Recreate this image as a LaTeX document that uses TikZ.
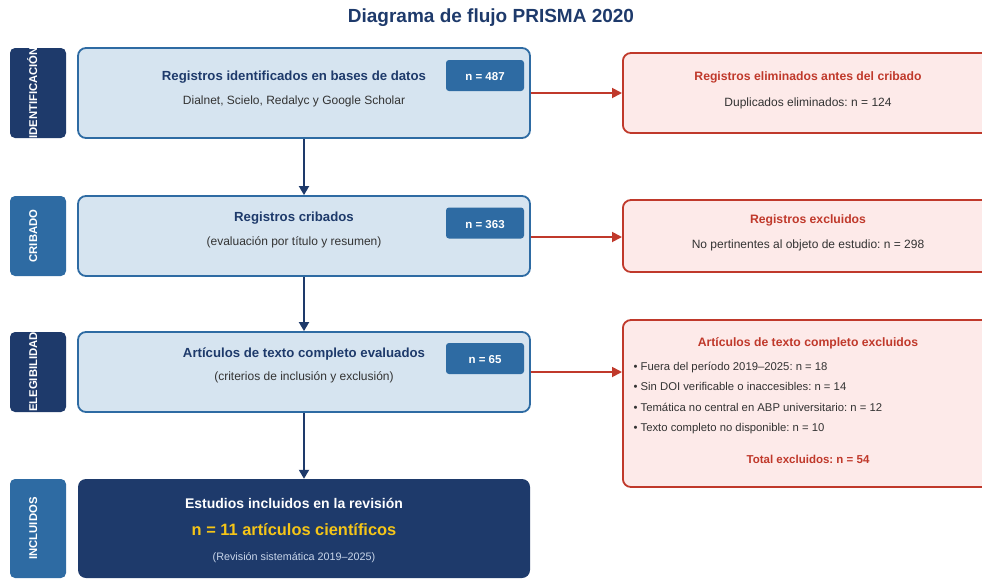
\documentclass[tikz,border=0pt]{standalone}
\usepackage{fontspec}
\setmainfont{Liberation Sans}
\usetikzlibrary{arrows.meta}

\definecolor{navy}{HTML}{1E3A6B}
\definecolor{midblue}{HTML}{2E6BA3}
\definecolor{paleblue}{HTML}{D6E4F0}
\definecolor{exred}{HTML}{C0392B}
\definecolor{expink}{HTML}{FDEAE9}
\definecolor{bodygray}{HTML}{333333}
\definecolor{gold}{HTML}{F5C518}
\definecolor{softwhite}{HTML}{C9D6EA}
\frenchspacing

\begin{document}
\begin{tikzpicture}[x=1pt,y=-1pt,
    every node/.append style={text height=1.5ex, text depth=.3ex},
    txt/.style={yshift=-2pt},
    stage/.style={rounded corners=5pt, minimum width=56pt, inner sep=0pt},
    stagetext/.style={xshift=-4pt, rotate=90, text=white, font=\fontsize{11.3}{13}\selectfont\bfseries},
    mainbox/.style={draw=midblue, fill=paleblue, line width=1.8pt, rounded corners=8pt, minimum width=452pt, inner sep=0pt},
    countbox/.style={fill=midblue, rounded corners=3pt, minimum width=78pt, minimum height=31pt, inner sep=0pt},
    counttext/.style={txt, text=white, font=\fontsize{11.5}{13}\selectfont\bfseries},
    headtext/.style={txt, text=navy, font=\fontsize{13.2}{15}\selectfont\bfseries},
    subtext/.style={txt, text=bodygray, font=\fontsize{12}{14}\selectfont},
    exclbox/.style={draw=exred, fill=expink, line width=1.8pt, rounded corners=8pt, minimum width=372pt, anchor=west, inner sep=0pt},
    excltitle/.style={txt, text=exred, font=\fontsize{12.2}{14}\selectfont\bfseries},
    excltext/.style={txt, text=bodygray, font=\fontsize{12}{14}\selectfont},
    bullet/.style={txt, text=bodygray, font=\fontsize{11.3}{13}\selectfont, anchor=west},
    flow/.style={-{Triangle[length=9pt,width=10pt]}, line width=1.8pt, navy},
    redflow/.style={-{Triangle[length=10pt,width=10pt]}, line width=1.8pt, exred}]
    \clip (0,0) rectangle (982,579);

    % Title %
    \node[txt, yshift=-1pt, text=navy, font=\fontsize{19}{22}\selectfont\bfseries] (title) at (491,16) {Diagrama de flujo PRISMA 2020};

    % Stage labels %
    \node[stage, fill=navy, minimum height=90pt, label={[stagetext]center:IDENTIFICACIÓN}] (stid) at (38,93) {};
    \node[stage, fill=midblue, minimum height=80pt, label={[stagetext]center:CRIBADO}] (stcrib) at (38,236) {};
    \node[stage, fill=navy, minimum height=80pt, label={[stagetext]center:ELEGIBILIDAD}] (stelig) at (38,372) {};
    \node[stage, fill=midblue, minimum height=99pt, label={[stagetext]center:INCLUIDOS}] (stincl) at (38,528.5) {};

    % Main flow %
    \node[mainbox, minimum height=90pt] (ident) at (304,93) {};
    \node[headtext] (identhead) at (294,75) {Registros identificados en bases de datos};
    \node[subtext] (identsub) at (294,99) {Dialnet, Scielo, Redalyc y Google Scholar};
    \node[countbox, label={[counttext]center:n = 487}] (identn) at (485,75.5) {};

    \node[mainbox, minimum height=80pt] (crib) at (304,236) {};
    \node[headtext] (cribhead) at (294,216) {Registros cribados};
    \node[subtext] (cribsub) at (294,240) {(evaluación por título y resumen)};
    \node[countbox, label={[counttext]center:n = 363}] (cribn) at (485,223) {};

    \node[mainbox, minimum height=80pt] (elig) at (304,372) {};
    \node[headtext] (elighead) at (304,352) {Artículos de texto completo evaluados};
    \node[subtext] (eligsub) at (304,375) {(criterios de inclusión y exclusión)};
    \node[countbox, label={[counttext]center:n = 65}] (elign) at (485,358.5) {};

    \node[fill=navy, rounded corners=8pt, minimum width=452pt, minimum height=99pt, inner sep=0pt] (incl) at (304,528.5) {};
    \node[txt, text=white, font=\fontsize{14}{16}\selectfont\bfseries] (inclhead) at (294,503) {Estudios incluidos en la revisión};
    \node[txt, text=gold, font=\fontsize{16.4}{19}\selectfont\bfseries] (incln) at (294,530) {n = 11 artículos científicos};
    \node[txt, text=softwhite, font=\fontsize{10.8}{12}\selectfont] (inclsub) at (294,555) {(Revisión sistemática 2019–2025)};

    \draw[flow] (ident.south) -- (crib.north);
    \draw[flow] (crib.south) -- (elig.north);
    \draw[flow] (elig.south) -- (incl.north);

    % Exclusions %
    \node[exclbox, minimum height=80pt] (dup) at (622,93) {};
    \node[excltitle] (duphead) at (808,75) {Registros eliminados antes del cribado};
    \node[excltext] (dupsub) at (808,101) {Duplicados eliminados: n = 124};

    \node[exclbox, minimum height=72pt] (excl) at (622,236) {};
    \node[excltitle] (exclhead) at (808,218) {Registros excluidos};
    \node[excltext] (exclsub) at (808,243) {No pertinentes al objeto de estudio: n = 298};

    \node[exclbox, minimum height=167pt] (full) at (622,403.5) {};
    \node[excltitle] (fullhead) at (808,341) {Artículos de texto completo excluidos};
    \node[bullet] (fulla) at (630,365) {• Fuera del período 2019–2025: n = 18};
    \node[bullet] (fullb) at (630,385.5) {• Sin DOI verificable o inaccesibles: n = 14};
    \node[bullet] (fullc) at (630,406) {• Temática no central en ABP universitario: n = 12};
    \node[bullet] (fulld) at (630,426.5) {• Texto completo no disponible: n = 10};
    \node[excltitle, font=\fontsize{11.5}{13}\selectfont\bfseries] (fulltot) at (808,458) {Total excluidos: n = 54};

    \draw[redflow] (ident.east) -- (ident.east -| dup.west);
    \draw[redflow] (crib.east) ++(0,1) -- (622,237);
    \draw[redflow] (elig.east) -- (elig.east -| full.west);
\end{tikzpicture}
\end{document}
